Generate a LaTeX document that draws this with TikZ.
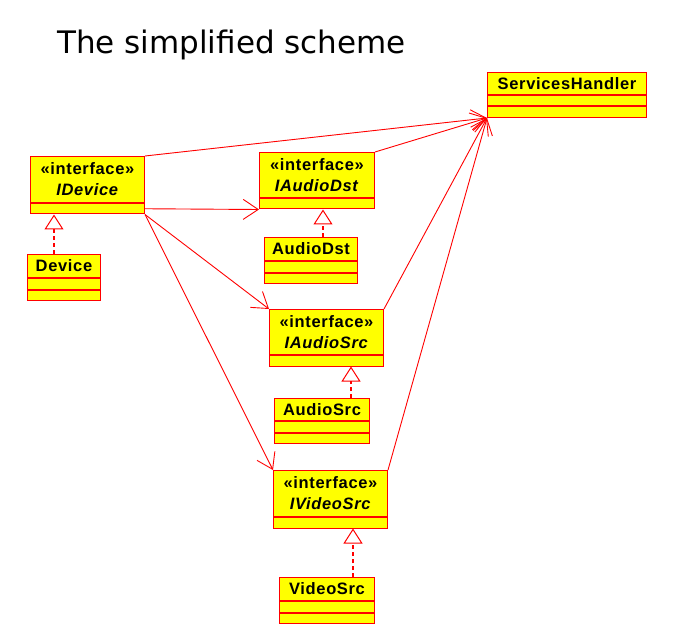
\documentclass[tikz,border=0pt]{standalone}
\usepackage{fontspec}
\usepackage{tikz}
\usetikzlibrary{positioning,arrows.meta}
\newfontfamily\umlfont[LetterSpace=4]{Liberation Sans}
\newfontfamily\titlefont{DejaVu Sans}
\definecolor{umlred}{RGB}{255,0,0}
\definecolor{umlyellow}{RGB}{255,255,0}

\tikzset{
  namebox/.style={draw=umlred, fill=umlyellow, line width=1pt, inner sep=0pt, anchor=north west,
    align=center, font=\umlfont\bfseries\fontsize{16.5}{21}\selectfont},
  slotbox/.style={draw=umlred, fill=umlyellow, line width=1pt, inner sep=0pt, minimum height=10.5pt},
  assoc/.style={color=umlred, line width=0.9pt, -{Straight Barb[length=15pt,width=20pt]}},
  realize/.style={draw=umlred, line width=1.2pt, dash pattern=on 4pt off 3pt,
    -{Triangle[open,length=15pt,width=19pt,line width=1pt]}}
}

\begin{document}
\begin{tikzpicture}[x=1pt,y=-1pt]
    \fill[white] (0,0) rectangle (674,644);
    \useasboundingbox (0,0) rectangle (674,644);

    \node[font=\titlefont\fontsize{31}{36}\selectfont, anchor=base west, inner sep=0pt]
      (title) at (57,54) {The simplified scheme};

    % services
    \node[namebox, minimum width=159pt, minimum height=22pt] (sh) at (487,72) {ServicesHandler};
    \node[slotbox, minimum width=159pt, below=0pt of sh] (shA) {};
    \node[slotbox, minimum width=159pt, below=0pt of shA] (shB) {};

    % interfaces
    \node[namebox, minimum width=114pt, minimum height=46pt] (idev) at (30,156) {«interface»\\\textit{IDevice}};
    \node[slotbox, minimum width=114pt, below=0pt of idev] (idevA) {};
    \node[namebox, minimum width=115pt, minimum height=45pt] (iadst) at (259,152) {«interface»\\\textit{IAudioDst}};
    \node[slotbox, minimum width=115pt, below=0pt of iadst] (iadstA) {};
    \node[namebox, minimum width=114pt, minimum height=45pt] (iasrc) at (269,309) {«interface»\\\textit{IAudioSrc}};
    \node[slotbox, minimum width=114pt, below=0pt of iasrc] (iasrcA) {};
    \node[namebox, minimum width=114pt, minimum height=46pt] (ivsrc) at (273,470) {«interface»\\\textit{IVideoSrc}};
    \node[slotbox, minimum width=114pt, below=0pt of ivsrc] (ivsrcA) {};

    % classes
    \node[namebox, minimum width=73pt, minimum height=23pt] (dev) at (27,254) {Device};
    \node[slotbox, minimum width=73pt, below=0pt of dev] (devA) {};
    \node[slotbox, minimum width=73pt, below=0pt of devA] (devB) {};
    \node[namebox, minimum width=93pt, minimum height=23pt] (adst) at (264,237) {AudioDst};
    \node[slotbox, minimum width=93pt, below=0pt of adst] (adstA) {};
    \node[slotbox, minimum width=93pt, below=0pt of adstA] (adstB) {};
    \node[namebox, minimum width=95pt, minimum height=22pt] (asrc) at (274,398) {AudioSrc};
    \node[slotbox, minimum width=95pt, below=0pt of asrc] (asrcA) {};
    \node[slotbox, minimum width=95pt, below=0pt of asrcA] (asrcB) {};
    \node[namebox, minimum width=95pt, minimum height=23pt] (vsrc) at (279,577) {VideoSrc};
    \node[slotbox, minimum width=95pt, below=0pt of vsrc] (vsrcA) {};
    \node[slotbox, minimum width=95pt, below=0pt of vsrcA] (vsrcB) {};

    % associations
    \draw[assoc] (idev.north east) -- (shB.south west);
    \draw[assoc] (idevA.east) -- (iadstA.south west);
    \draw[assoc] (idevA.south east) -- (iasrc.north west);
    \draw[assoc] (idevA.south east) -- (ivsrc.north west);
    \foreach \n in {iadst,iasrc,ivsrc}
    {
      \draw[assoc] (\n.north east) -- (shB.south west);
    }

    % realizations
    \coordinate (devtop) at ([xshift=-10pt]dev.north);
    \coordinate (adsttop) at ([xshift=12pt]adst.north);
    \coordinate (asrctop) at ([xshift=29pt]asrc.north);
    \coordinate (vsrctop) at ([xshift=26pt]vsrc.north);
    \draw[realize] (devtop) -- (devtop |- idevA.south);
    \draw[realize] (adsttop) -- (adsttop |- iadstA.south);
    \draw[realize] (asrctop) -- (asrctop |- iasrcA.south);
    \draw[realize] (vsrctop) -- (vsrctop |- ivsrcA.south);
\end{tikzpicture}
\end{document}
